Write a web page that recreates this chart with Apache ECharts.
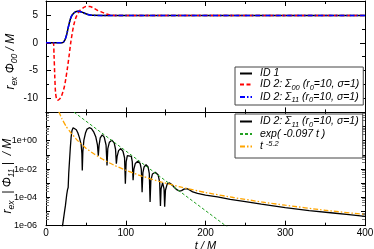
<!DOCTYPE html>
<html><head><meta charset="utf-8">
<script src="https://cdn.jsdelivr.net/npm/echarts@6/dist/echarts.min.js"></script>
<style>html,body{margin:0;padding:0;background:#fff}#c{width:374px;height:249px}</style>
</head><body><div id="c"></div>
<script>
// ---------- data ----------
const xTickValues = [0, 100, 200, 300, 400];
const yTopTickLabels = ['-10', '-5', '0', '5'];
const yLogTickLabels = ['1e-06', '1e-04', '1e-02', '1e+00'];

// top panel: r_ex Phi_00 / M
const id1Time = [0, 20, 22, 24, 26, 28, 30, 32, 35, 38, 41, 45, 50, 55, 60, 70, 400];
const id1Value = [0, 0, 0.15, 0.6, 1.5, 2.8, 4.0, 4.8, 5.35, 5.6, 5.65, 5.5, 5.2, 5.0, 4.92, 4.9, 4.9];
const sig00Time = [0, 9, 10, 11, 12, 13.5, 15, 17, 19, 21, 23, 25, 27, 29, 31, 33, 35, 38, 42, 46, 50, 55, 60, 65, 70, 75, 80, 90, 400];
const sig00Value = [0, 0, -2, -6, -9, -10.2, -10.3, -10.1, -9.7, -8.9, -7.9, -6.3, -4.4, -2.3, 0, 1.8, 3.3, 4.7, 5.7, 6.2, 6.5, 6.5, 6.2, 5.8, 5.5, 5.2, 5.0, 4.9, 4.9];
const sig11Time = [0, 20, 22, 24, 26, 28, 30, 32, 35, 38, 41, 45, 50, 55, 60, 70, 400];
const sig11Value = [0, 0, 0.15, 0.6, 1.5, 2.8, 4.0, 4.8, 5.35, 5.6, 5.65, 5.5, 5.2, 5.0, 4.92, 4.9, 4.9];

// bottom panel: r_ex |Phi_11| / M
const absTime = [20, 22, 23.5, 24.3, 25, 26, 27, 27.8, 28.5, 29.5, 30.5, 31.5, 32.5, 34, 36, 38, 40, 42, 44, 45, 45.5,
  46.2, 47.5, 49.5, 51.5, 54.3, 57, 60, 62.5, 64.5, 65.6,
  66.5, 68, 70.5, 73, 75.3, 76.5,
  77.5, 79.5, 82.5, 85.5, 87.2, 88.2,
  89.2, 91, 93.8, 96.5, 98.5, 99.5,
  100.5, 102, 104.5, 107, 108.2, 109.2,
  110.2, 112, 115, 118, 119.5, 120.5,
  121.5, 123, 125.5, 128, 129.5, 130.5,
  131.5, 133.5, 137, 140.5, 142.5, 143.5,
  144.3, 146.2, 148, 148.8,
  149.8, 152, 155, 158, 161, 164, 167, 170, 173, 176.5, 180, 184, 190, 200, 215, 231, 250, 270, 300, 330, 360, 380, 400];
const absValue = [5.0e-7, 3.2e-6, 1.26e-5, 2.5e-5, 3.2e-5, 1.6e-4, 3.5e-4, 5.0e-4, 5.0e-3, 0.04, 0.32, 1.8, 5.0, 8.3, 7.6, 6.0, 3.5, 1.6, 0.56, 0.126, 0.0079,
  0.16, 1.1, 3.5, 6.6, 8.3, 7.1, 4.0, 1.8, 0.5, 0.089,
  0.45, 1.6, 2.6, 1.8, 0.5, 0.018,
  0.28, 0.79, 1.1, 0.71, 0.25, 0.024,
  0.079, 0.2, 0.28, 0.18, 0.063, 9.1e-4,
  0.032, 0.089, 0.12, 0.079, 0.032, 1.6e-3,
  0.01, 0.025, 0.035, 0.025, 0.01, 2.3e-4,
  5.6e-3, 0.014, 0.02, 0.014, 5.0e-3, 4.7e-5,
  1.6e-3, 4.5e-3, 6.0e-3, 4.0e-3, 1.26e-3, 2.5e-5,
  4.0e-4, 1.1e-3, 4.0e-4, 2.2e-5,
  3.2e-4, 8.9e-4, 1.05e-3, 7.9e-4, 5.0e-4, 3.5e-4, 2.8e-4, 3.0e-4, 3.8e-4, 4.2e-4, 3.4e-4, 2.4e-4, 1.9e-4, 1.45e-4, 1.07e-4, 7.2e-5, 5.0e-5, 3.3e-5, 1.86e-5, 1.17e-5, 7.9e-6, 6.0e-6, 4.5e-6];
const expTime = [30, 230];
const expValue = [170, 6.3e-7];
const powTime = [16, 20, 25, 30, 40, 50, 60, 70, 85, 100, 120, 145, 170, 200, 235, 270, 300, 350, 400];
const powValue = [115, 36, 11, 4.4, 0.98, 0.30, 0.12, 0.053, 0.019, 0.0083, 0.0032, 0.0012, 5.2e-4, 2.2e-4, 9.8e-5, 4.8e-5, 2.8e-5, 1.23e-5, 6.2e-6];

const legendLabels = {
  id1: '{n|ID 1}',
  sig00: '{n|ID 2: Σ}{sb|00}{n| (r}{sb|0}{n|=10, σ=1)}',
  sig11: '{n|ID 2: Σ}{sb|11}{n| (r}{sb|0}{n|=10, σ=1)}',
  abs: '{n|ID 2: Σ}{sb|11}{n| (r}{sb|0}{n|=10, σ=1)}',
  exp: '{n|exp( -0.097 t )}',
  pow: '{n|t }{sp|-5.2}'
};

// ---------- chart ----------
const FONT = 'Liberation Sans';
const zip = (a, b) => a.map((t, i) => [t, b[i]]);
const legendRich = {
  n: {fontFamily: FONT, fontStyle: 'italic', fontSize: 10.5, color: '#000', lineHeight: 14},
  sb: {fontFamily: FONT, fontStyle: 'italic', fontSize: 7.5, color: '#000', lineHeight: 6, verticalAlign: 'bottom'},
  sp: {fontFamily: FONT, fontStyle: 'italic', fontSize: 7.5, color: '#000', lineHeight: 7, verticalAlign: 'top'}
};
const nameRich = {
  i: {fontFamily: FONT, fontStyle: 'italic', fontSize: 12, color: '#000', lineHeight: 16},
  s: {fontFamily: FONT, fontStyle: 'italic', fontSize: 8.5, color: '#000', lineHeight: 7, verticalAlign: 'bottom'},
  g10: {fontSize: 12, width: 10, lineHeight: 16},
  g14: {fontSize: 12, width: 14, lineHeight: 16}
};
const tick = {show: true, inside: true, length: 5, lineStyle: {color: '#000', width: 1}};
const minor = n => ({show: true, splitNumber: n, length: 3, lineStyle: {color: '#000', width: 1}});
const line = {show: true, onZero: false, lineStyle: {color: '#000', width: 1}};
const tickFont = {fontFamily: FONT, fontSize: 10, color: '#000'};

function logLabel(v) {
  const e = Math.round(Math.log10(v));
  const s = '1e' + (e < 0 ? '-' : '+') + String(Math.abs(e)).padStart(2, '0');
  return yLogTickLabels.includes(s) ? s : '';
}
function topLabel(v) {
  const s = String(v);
  return yTopTickLabels.includes(s) ? s : '';
}

const xBase = (grid, pos, labels) => ({
  type: 'value', gridIndex: grid, position: pos, min: 0, max: 400, interval: 100,
  axisLine: line, axisTick: tick, minorTick: minor(2), splitLine: {show: false},
  axisLabel: labels ? Object.assign({show: true, margin: 3,
      formatter: v => xTickValues.includes(v) ? String(v) : ''}, tickFont) : {show: false}
});

const legendCommon = {
  orient: 'vertical', left: 235, itemGap: 0, itemWidth: 12, itemHeight: 12,
  backgroundColor: '#fff', borderColor: '#444', borderWidth: 1, borderRadius: 0,
  selectedMode: false, formatter: n => legendLabels[n],
  itemStyle: {opacity: 0, color: 'rgba(0,0,0,0)', borderWidth: 0},
  textStyle: {padding: [0, 0, 0, 3], rich: legendRich}
};

const option = {
  animation: false,
  backgroundColor: '#fff',
  grid: [
    {left: 46, top: 1, width: 319, height: 111.4, outerBoundsMode: 'none', containLabel: false},
    {left: 46, top: 112.4, width: 319, height: 113.3, outerBoundsMode: 'none', containLabel: false}
  ],
  xAxis: [
    xBase(0, 'bottom', false),
    xBase(0, 'top', false),
    Object.assign(xBase(1, 'bottom', true), {
      name: 't / M', nameLocation: 'middle', nameGap: 15, nameMoveOverlap: false,
      nameTextStyle: {fontFamily: FONT, fontStyle: 'italic', fontSize: 11, color: '#000'}
    }),
    xBase(1, 'top', false)
  ],
  yAxis: [
    {type: 'value', gridIndex: 0, position: 'left', min: -12.5, max: 7.5, splitNumber: 4,
     axisLine: line, axisTick: tick, minorTick: minor(2), splitLine: {show: false},
     axisLabel: Object.assign({margin: 8, showMinLabel: false, showMaxLabel: false, formatter: topLabel}, tickFont),
     name: '{i|r}{s|ex}{i| Φ}{s|00}{i| / M}{g10| }', nameLocation: 'middle', nameRotate: 90, nameGap: 27,
     nameMoveOverlap: false,
     nameTextStyle: {rich: nameRich}},
    {type: 'value', gridIndex: 0, position: 'right', min: -12.5, max: 7.5, splitNumber: 4,
     axisLine: line, axisTick: tick, minorTick: minor(2), splitLine: {show: false}, axisLabel: {show: false}},
    {type: 'log', gridIndex: 1, position: 'left', min: 1e-6, max: 1e2, logBase: 10,
     axisLine: line, axisTick: Object.assign({}, tick, {length: 4}),
     minorTick: {show: true, splitNumber: 5, length: 3, lineStyle: {color: '#777', width: 1}}, splitLine: {show: false},
     axisLabel: Object.assign({}, tickFont, {margin: 9, fontSize: 9, formatter: logLabel}),
     name: '{i|r}{s|ex}{i|  | Φ}{s|11}{i| |  / M}{g14| }', nameLocation: 'middle', nameRotate: 90, nameGap: 30,
     nameMoveOverlap: false,
     nameTextStyle: {rich: nameRich}},
    {type: 'log', gridIndex: 1, position: 'right', min: 1e-6, max: 1e2, logBase: 10,
     axisLine: line, axisTick: Object.assign({}, tick, {length: 4}),
     minorTick: {show: true, splitNumber: 5, length: 3, lineStyle: {color: '#777', width: 1}}, splitLine: {show: false},
     axisLabel: {show: false}}
  ],
  legend: [
    Object.assign({data: ['id1', 'sig00', 'sig11'], top: 67, padding: [1, 4, 1, 4]}, legendCommon),
    Object.assign({data: ['abs', 'exp', 'pow'], top: 114, padding: [2, 4, 6, 4]}, legendCommon)
  ],
  series: [
    {name: 'id1', type: 'line', xAxisIndex: 0, yAxisIndex: 0, data: zip(id1Time, id1Value),
     symbol: 'none', smooth: 0.3, lineStyle: {color: '#000', width: 1.5}, itemStyle: {color: '#000'}},
    {name: 'sig00', type: 'line', xAxisIndex: 0, yAxisIndex: 0, data: zip(sig00Time, sig00Value),
     symbol: 'none', smooth: 0.3, lineStyle: {color: '#ff0000', width: 1.5, type: [4, 2.5]}, itemStyle: {color: '#ff0000'}},
    {name: 'sig11', type: 'line', xAxisIndex: 0, yAxisIndex: 0, data: zip(sig11Time, sig11Value),
     symbol: 'none', smooth: 0.3, lineStyle: {color: '#0000ff', width: 1.5, type: [5, 2, 1.5, 2]}, itemStyle: {color: '#0000ff'}},
    {name: 'abs', type: 'line', xAxisIndex: 2, yAxisIndex: 2, data: zip(absTime, absValue),
     symbol: 'none', lineStyle: {color: '#000', width: 1.3}, itemStyle: {color: '#000'}},
    {name: 'exp', type: 'line', xAxisIndex: 2, yAxisIndex: 2, data: zip(expTime, expValue),
     symbol: 'none', lineStyle: {color: '#22a022', width: 1, type: [3, 2]}, itemStyle: {color: '#22a022'}},
    {name: 'pow', type: 'line', xAxisIndex: 2, yAxisIndex: 2, data: zip(powTime, powValue),
     symbol: 'none', smooth: 0.2, lineStyle: {color: '#ffa500', width: 1.3, type: [5, 2, 1.5, 2]}, itemStyle: {color: '#ffa500'}}
  ]
};
echarts.init(document.getElementById('c'), null, {renderer: 'canvas'}).setOption(option);
</script>
</body></html>
